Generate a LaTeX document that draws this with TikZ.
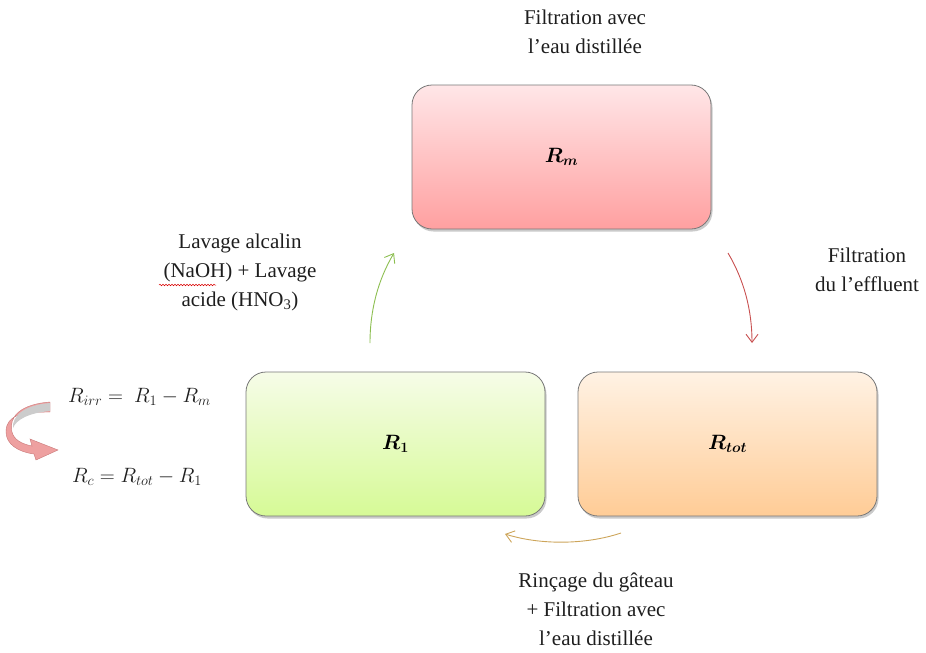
\documentclass[tikz,border=0pt]{standalone}
\usepackage{amsmath,bm}
\usepackage{fontspec}
\setmainfont{Liberation Serif}
\usetikzlibrary{arrows.meta,shadows,decorations.pathmorphing}
\definecolor{pinkTop}{RGB}{255,230,232}
\definecolor{pinkBot}{RGB}{255,160,160}
\definecolor{greenTop}{RGB}{246,252,232}
\definecolor{greenBot}{RGB}{214,250,150}
\definecolor{orangeTop}{RGB}{255,242,228}
\definecolor{orangeBot}{RGB}{255,204,150}
\definecolor{boxEdge}{RGB}{120,120,120}
\definecolor{arrGreen}{RGB}{140,190,80}
\definecolor{arrRed}{RGB}{200,80,80}
\definecolor{arrGold}{RGB}{205,165,90}
\definecolor{curlFill}{RGB}{238,160,160}
\definecolor{curlEdge}{RGB}{200,120,120}
\definecolor{txt}{RGB}{30,30,30}
\tikzset{
  rbox/.style={draw=boxEdge, line width=0.8pt, rounded corners=20pt,
    minimum width=299pt, minimum height=144pt, shading=axis,
    drop shadow={shadow xshift=1.5pt, shadow yshift=-2.5pt, opacity=0.35, fill=black!60},
    font=\fontsize{20}{24}\selectfont, inner sep=0pt},
  lbl/.style={align=center, font=\fontsize{21}{29}\selectfont, text=txt},
  eqn/.style={font=\fontsize{21}{24}\selectfont, text=txt, anchor=west, inner sep=0pt},
  flow/.style={line width=0.9pt, -{Straight Barb[length=8pt,width=12pt]}}
}
\begin{document}
\begin{tikzpicture}[x=1pt,y=-1pt]
\useasboundingbox (0,0) rectangle (926,653);
% boxes
\node[rbox, top color=pinkTop, bottom color=pinkBot] (rm) at (561.5,157) {$\bm{R_m}$};
\node[rbox, top color=greenTop, bottom color=greenBot] (r1) at (395.5,444) {$\bm{R_1}$};
\node[rbox, top color=orangeTop, bottom color=orangeBot] (rtot) at (727.5,444) {$\bm{R_{tot}}$};
% labels
\node[lbl] (ltop) at (585,32) {Filtration avec\\l'eau distillée};
\node[lbl] (lleft) at (240,272) {Lavage alcalin\\(NaOH) + Lavage\\acide (HNO\textsubscript{3})};
\node[lbl] (lright) at (867,270) {Filtration\\du l'effluent};
\node[lbl] (lbot) at (596,609) {Rinçage du gâteau\\+ Filtration avec\\l'eau distillée};
% wavy underline under NaOH
\draw[red!85!black, line width=0.5pt, decorate, decoration={snake, amplitude=0.8pt, segment length=3pt}] (159,285) -- (216,285);
% connectors
\coordinate (g1) at (370,343);
\coordinate (g2) at (394,253);
\draw[flow, arrGreen] (g1) .. controls (370,310) and (378,280) .. (g2);
\coordinate (c1) at (728,253);
\coordinate (c2) at (752,343);
\draw[flow, arrRed] (c1) .. controls (744,280) and (752,310) .. (c2);
\coordinate (o1) at (621,533);
\coordinate (o2) at (505,534);
\draw[flow, arrGold] (o1) .. controls (585,545) and (540,545) .. (o2);
% equations
\node[eqn] (eq1) at (68,397) {$R_{irr} =\ R_1 - R_m$};
\node[eqn] (eq2) at (72,477) {$R_c = R_{tot} - R_1$};
% curled arrow
\path[fill=curlFill, draw=curlEdge, line width=0.4pt]
  (50,402) .. controls (22,404) and (8,416) .. (12,432)
  .. controls (14,440) and (22,444) .. (32,446)
  -- (30,439) -- (58,450) -- (36,460) -- (34,454)
  .. controls (18,452) and (6,444) .. (6,432)
  .. controls (6,414) and (24,412) .. (50,412) -- cycle;
\path[fill=black!20] (50,403) .. controls (24,405) and (12,416) .. (13,428)
  .. controls (16,420) and (28,413) .. (50,411) -- cycle;
\end{tikzpicture}
\end{document}
